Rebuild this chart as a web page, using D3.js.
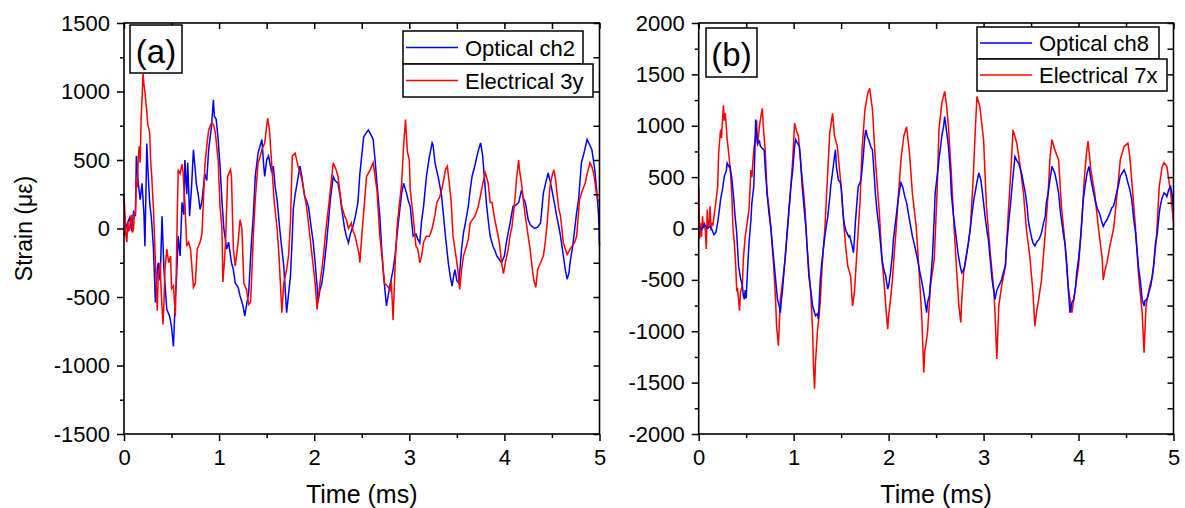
<!DOCTYPE html>
<html>
<head>
<meta charset="utf-8">
<script src="https://cdn.jsdelivr.net/npm/d3@7"></script>
<style>
  body { margin: 0; background: #fff; }
  svg { display: block; font-family: "Liberation Sans", Arial, sans-serif; }
  .tick text { fill: #000; }
</style>
</head>
<body>
<svg width="1185" height="508"></svg>
<script>
// values: [time (ms), strain (µε)]
const optA = [
  [0.00, -50], [0.03, 30], [0.06, 80], [0.08, -20], [0.10, 120], [0.12, 90], [0.13, 530], [0.15, 330],
  [0.17, 210], [0.19, 330], [0.21, 100], [0.22, -130], [0.24, 620], [0.25, 450], [0.27, 190], [0.29, 60],
  [0.31, -150], [0.33, -540], [0.35, -300], [0.36, -250], [0.38, -380], [0.40, 90], [0.42, -300], [0.45, -590],
  [0.48, -640], [0.50, -720], [0.52, -860], [0.54, -500], [0.55, -400], [0.57, -55], [0.59, -200], [0.61, 190],
  [0.63, 100], [0.64, 500], [0.66, 250], [0.67, 480], [0.69, 90], [0.71, 300], [0.73, 575], [0.75, 420],
  [0.76, 330], [0.78, 250], [0.80, 140], [0.82, 200], [0.85, 400], [0.87, 350], [0.89, 575], [0.92, 745],
  [0.94, 940], [0.95, 820], [0.97, 795], [0.99, 650], [1.01, 455], [1.03, 200], [1.05, 0], [1.08, -150],
  [1.10, -100], [1.13, -250], [1.15, -300], [1.17, -400], [1.20, -430], [1.22, -490], [1.25, -560], [1.27, -640],
  [1.29, -550], [1.31, -480], [1.34, -100], [1.36, 100], [1.38, 380], [1.41, 550], [1.43, 600], [1.45, 650],
  [1.47, 450], [1.48, 380], [1.50, 500], [1.52, 530], [1.55, 420], [1.57, 455], [1.59, 300], [1.61, 210],
  [1.64, -20], [1.66, -150], [1.68, -275], [1.70, -500], [1.71, -615], [1.73, -480], [1.75, -350], [1.77, -50],
  [1.78, 140], [1.80, 250], [1.82, 330], [1.85, 455], [1.87, 380], [1.90, 235], [1.92, 200], [1.94, 160],
  [1.97, 0], [1.99, -100], [2.01, -250], [2.03, -420], [2.04, -540], [2.06, -450], [2.08, -400], [2.10, -300],
  [2.13, -105], [2.15, 50], [2.17, 210], [2.20, 380], [2.22, 350], [2.25, 330], [2.27, 250], [2.29, 140],
  [2.32, 0], [2.34, -60], [2.36, -105], [2.38, -40], [2.41, 20], [2.43, 80], [2.46, 190], [2.48, 400],
  [2.50, 530], [2.52, 670], [2.55, 700], [2.57, 720], [2.60, 680], [2.62, 650], [2.64, 500], [2.66, 330],
  [2.69, 90], [2.71, -150], [2.73, -350], [2.76, -565], [2.78, -480], [2.80, -400], [2.83, -300], [2.85, -200],
  [2.87, -55], [2.90, 140], [2.92, 260], [2.94, 330], [2.97, 260], [2.99, 200], [3.01, 160], [3.04, -55],
  [3.07, -40], [3.09, -80], [3.11, -105], [3.13, 60], [3.15, 160], [3.18, 380], [3.21, 520], [3.24, 625],
  [3.25, 610], [3.27, 480], [3.31, 355], [3.34, 235], [3.36, 90], [3.38, -55], [3.41, -250], [3.43, -350],
  [3.45, -420], [3.47, -330], [3.48, -300], [3.50, -380], [3.52, -400], [3.55, -150], [3.57, -30], [3.59, 40],
  [3.62, 160], [3.64, 280], [3.66, 380], [3.69, 460], [3.71, 525], [3.73, 580], [3.75, 625], [3.77, 540],
  [3.78, 455], [3.81, 190], [3.83, 60], [3.85, -55], [3.88, -130], [3.90, -160], [3.92, -200], [3.95, -230],
  [3.97, -250], [4.00, -200], [4.02, -105], [4.04, -30], [4.06, 40], [4.09, 160], [4.12, 170], [4.15, 190],
  [4.18, 280], [4.20, 220], [4.22, 190], [4.25, 65], [4.27, 30], [4.29, 15], [4.32, 0], [4.35, 10],
  [4.38, 40], [4.41, 260], [4.44, 350], [4.46, 405], [4.48, 350], [4.50, 280], [4.53, 170], [4.55, 90],
  [4.57, 20], [4.59, -55], [4.62, -200], [4.64, -300], [4.66, -370], [4.68, -320], [4.69, -250], [4.72, -120],
  [4.74, 0], [4.76, 120], [4.78, 210], [4.81, 480], [4.84, 560], [4.87, 650], [4.89, 620], [4.92, 575],
  [4.95, 430], [4.97, 280], [4.99, 100], [5.00, -130]
];

const eleA = [
  [0.00, 250], [0.01, 100], [0.02, -50], [0.03, -100], [0.04, 50], [0.05, -20], [0.06, 0], [0.07, 80],
  [0.08, 100], [0.09, -30], [0.10, 0], [0.11, 120], [0.12, 100], [0.13, 350], [0.14, 300], [0.15, 520],
  [0.16, 600], [0.17, 480], [0.18, 800], [0.19, 950], [0.20, 1130], [0.21, 1050], [0.22, 1000], [0.24, 850],
  [0.25, 760], [0.27, 700], [0.28, 500], [0.29, 400], [0.31, 140], [0.32, -50], [0.33, -250], [0.35, -600],
  [0.36, -350], [0.38, -250], [0.39, -450], [0.41, -700], [0.42, -550], [0.43, -300], [0.45, -150], [0.47, -250],
  [0.49, -200], [0.50, -440], [0.52, -420], [0.54, -640], [0.55, -300], [0.56, 100], [0.57, 430], [0.59, 400],
  [0.61, 470], [0.62, 420], [0.64, 190], [0.66, -130], [0.68, -100], [0.70, -150], [0.73, -430], [0.75, -400],
  [0.77, -150], [0.80, -100], [0.82, -40], [0.85, 455], [0.87, 600], [0.89, 720], [0.92, 770], [0.94, 760],
  [0.96, 700], [0.99, 500], [1.01, 160], [1.03, 0], [1.04, -390], [1.06, -200], [1.07, -60], [1.09, 380],
  [1.12, 430], [1.13, 380], [1.15, -150], [1.17, -275], [1.20, -100], [1.22, 65], [1.24, 0], [1.26, -400],
  [1.29, -450], [1.31, -555], [1.33, -540], [1.34, -400], [1.36, -50], [1.38, 210], [1.41, 480], [1.43, 520],
  [1.45, 575], [1.48, 625], [1.51, 805], [1.53, 720], [1.55, 500], [1.58, 190], [1.61, 0], [1.63, -200],
  [1.66, -615], [1.68, -400], [1.71, -300], [1.73, -200], [1.75, 40], [1.77, 530], [1.80, 550], [1.83, 455],
  [1.87, 360], [1.90, 235], [1.92, 160], [1.94, 40], [1.97, -150], [2.01, -400], [2.03, -590], [2.06, -400],
  [2.08, -300], [2.10, -180], [2.13, 40], [2.15, 150], [2.17, 280], [2.20, 480], [2.23, 430], [2.25, 380],
  [2.29, 160], [2.32, 90], [2.34, 60], [2.36, 0], [2.39, 40], [2.41, -20], [2.43, -55], [2.45, -120],
  [2.47, -180], [2.48, -250], [2.50, -55], [2.53, 200], [2.55, 380], [2.59, 430], [2.62, 480], [2.64, 380],
  [2.66, 280], [2.69, -55], [2.72, -250], [2.74, -400], [2.77, -420], [2.80, -450], [2.81, -380], [2.83, -670],
  [2.85, -275], [2.87, 0], [2.89, 140], [2.92, 330], [2.94, 600], [2.96, 795], [2.98, 560], [3.00, 500],
  [3.01, 280], [3.04, 90], [3.07, -130], [3.09, -150], [3.11, -250], [3.13, -200], [3.15, -100], [3.18, -55],
  [3.21, -60], [3.24, 0], [3.27, 100], [3.29, 190], [3.32, 230], [3.34, 280], [3.36, 350], [3.38, 430],
  [3.40, 455], [3.42, 330], [3.44, 200], [3.46, -55], [3.49, -200], [3.51, -300], [3.53, -445], [3.55, -300],
  [3.57, -200], [3.60, -130], [3.62, -80], [3.64, 40], [3.67, 70], [3.69, 90], [3.72, 150], [3.74, 210],
  [3.77, 320], [3.80, 405], [3.83, 330], [3.85, 190], [3.87, 190], [3.90, 60], [3.93, -40], [3.95, -120],
  [3.97, -250], [3.99, -330], [4.01, -250], [4.04, -150], [4.06, -50], [4.08, 15], [4.11, 210], [4.13, 380],
  [4.15, 500], [4.16, 420], [4.18, 330], [4.20, 200], [4.22, 90], [4.25, -55], [4.27, -150], [4.29, -275],
  [4.31, -380], [4.33, -430], [4.35, -300], [4.38, -250], [4.41, -200], [4.43, -100], [4.45, 40], [4.48, 310],
  [4.50, 380], [4.52, 430], [4.54, 350], [4.55, 280], [4.57, 150], [4.59, 90], [4.62, -105], [4.64, -150],
  [4.66, -190], [4.69, -150], [4.71, -130], [4.74, -100], [4.76, -55], [4.79, 210], [4.82, 280], [4.85, 330],
  [4.87, 400], [4.90, 480], [4.92, 450], [4.94, 400], [4.96, 300], [4.97, 235], [5.00, 190]
];

const optB = [
  [0.00, 20], [0.03, -10], [0.06, 40], [0.09, 0], [0.12, 20], [0.14, -10], [0.16, -60], [0.18, -40],
  [0.20, 55], [0.22, 200], [0.23, 280], [0.25, 380], [0.27, 510], [0.29, 560], [0.30, 635], [0.32, 600],
  [0.33, 605], [0.35, 475], [0.37, 280], [0.38, 150], [0.40, -40], [0.42, -365], [0.44, -480], [0.46, -560],
  [0.47, -650], [0.48, -690], [0.49, -600], [0.50, -680], [0.52, -300], [0.53, -140], [0.55, 85], [0.56, 250],
  [0.58, 410], [0.59, 700], [0.60, 1060], [0.61, 900], [0.62, 830], [0.64, 850], [0.65, 800], [0.67, 780],
  [0.69, 760], [0.70, 600], [0.72, 345], [0.74, 150], [0.76, 0], [0.78, -200], [0.79, -300], [0.81, -500],
  [0.83, -690], [0.85, -760], [0.86, -820], [0.87, -700], [0.88, -625], [0.90, -400], [0.92, -170], [0.95, 185],
  [0.97, 400], [0.99, 570], [1.01, 800], [1.02, 865], [1.04, 830], [1.06, 800], [1.07, 700], [1.09, 410],
  [1.11, 200], [1.13, 0], [1.15, -300], [1.16, -465], [1.18, -600], [1.20, -755], [1.22, -820], [1.23, -850],
  [1.25, -830], [1.26, -880], [1.27, -700], [1.28, -500], [1.30, -300], [1.32, -140], [1.34, 0], [1.36, 120],
  [1.38, 300], [1.39, 410], [1.41, 550], [1.43, 700], [1.44, 765], [1.45, 600], [1.47, 475], [1.49, 450],
  [1.50, 410], [1.52, 150], [1.53, 60], [1.55, -20], [1.56, -40], [1.58, -80], [1.59, -70], [1.61, -150],
  [1.63, -235], [1.64, -100], [1.65, 60], [1.67, 300], [1.68, 410], [1.70, 450], [1.71, 475], [1.73, 670],
  [1.75, 900], [1.76, 960], [1.78, 880], [1.79, 865], [1.81, 800], [1.83, 765], [1.85, 500], [1.86, 345],
  [1.88, 150], [1.90, 0], [1.92, -200], [1.93, -300], [1.95, -400], [1.97, -465], [1.99, -590], [2.00, -560],
  [2.02, -430], [2.04, -250], [2.05, -110], [2.08, 120], [2.10, 280], [2.12, 400], [2.13, 445], [2.15, 400],
  [2.17, 310], [2.19, 250], [2.22, 85], [2.25, -75], [2.27, -150], [2.29, -235], [2.31, -330], [2.33, -430],
  [2.35, -520], [2.37, -625], [2.40, -820], [2.41, -720], [2.43, -650], [2.46, -300], [2.48, 100], [2.49, 345],
  [2.51, 500], [2.53, 670], [2.55, 820], [2.56, 900], [2.58, 1000], [2.59, 1090], [2.61, 950], [2.63, 800],
  [2.65, 550], [2.66, 345], [2.68, 150], [2.70, 0], [2.72, -150], [2.73, -235], [2.75, -350], [2.77, -430],
  [2.79, -400], [2.80, -365], [2.82, -250], [2.84, -140], [2.86, 0], [2.88, 160], [2.90, 300], [2.91, 345],
  [2.93, 450], [2.95, 540], [2.97, 480], [2.98, 410], [3.00, 250], [3.02, 85], [3.04, -50], [3.05, -100],
  [3.07, -300], [3.09, -500], [3.11, -620], [3.12, -690], [3.14, -600], [3.16, -560], [3.18, -520], [3.19, -500],
  [3.21, -420], [3.23, -365], [3.24, -200], [3.26, 20], [3.28, 200], [3.30, 410], [3.32, 600], [3.33, 700],
  [3.35, 660], [3.37, 635], [3.38, 600], [3.40, 540], [3.42, 440], [3.44, 345], [3.46, 200], [3.47, 85],
  [3.49, -20], [3.51, -105], [3.52, -140], [3.54, -170], [3.56, -130], [3.58, -110], [3.60, -70], [3.61, -40],
  [3.63, 50], [3.65, 120], [3.66, 250], [3.68, 345], [3.70, 480], [3.72, 605], [3.73, 580], [3.75, 540],
  [3.77, 450], [3.79, 345], [3.81, 150], [3.82, 85], [3.84, -50], [3.86, -170], [3.88, -400], [3.89, -560],
  [3.91, -820], [3.93, -720], [3.95, -690], [3.97, -560], [3.98, -430], [4.00, -300], [4.02, -105], [4.04, 150],
  [4.05, 280], [4.07, 420], [4.09, 540], [4.11, 605], [4.13, 480], [4.15, 380], [4.17, 300], [4.18, 250],
  [4.20, 190], [4.22, 150], [4.24, 80], [4.26, 20], [4.28, 60], [4.30, 85], [4.32, 130], [4.33, 150],
  [4.35, 200], [4.37, 220], [4.40, 345], [4.42, 420], [4.44, 510], [4.46, 540], [4.48, 570], [4.50, 520],
  [4.52, 445], [4.54, 380], [4.56, 280], [4.58, 100], [4.60, -40], [4.62, -250], [4.63, -365], [4.65, -500],
  [4.67, -690], [4.69, -755], [4.70, -700], [4.72, -690], [4.74, -620], [4.76, -560], [4.77, -500], [4.79, -365],
  [4.81, -150], [4.83, -40], [4.85, 150], [4.86, 215], [4.88, 300], [4.90, 345], [4.92, 330], [4.93, 310],
  [4.95, 380], [4.97, 410], [4.99, 300], [5.00, 185]
];

const eleB = [
  [0.00, 410], [0.01, -100], [0.02, 50], [0.03, -80], [0.04, 120], [0.05, 0], [0.06, 60], [0.07, -20],
  [0.08, -200], [0.09, 185], [0.10, 0], [0.11, 40], [0.12, 216], [0.13, -20], [0.14, 55], [0.15, 30],
  [0.17, 185], [0.18, 250], [0.20, 410], [0.21, 735], [0.23, 960], [0.24, 880], [0.26, 1200], [0.27, 1050],
  [0.28, 1120], [0.29, 1000], [0.30, 865], [0.32, 700], [0.34, 475], [0.35, 300], [0.36, 20], [0.38, -200],
  [0.39, -365], [0.40, -600], [0.41, -590], [0.43, -800], [0.44, -620], [0.46, -560], [0.47, -300], [0.49, -75],
  [0.51, 50], [0.53, 185], [0.55, 570], [0.56, 500], [0.58, 765], [0.60, 900], [0.61, 1050], [0.62, 800],
  [0.64, 1000], [0.65, 1060], [0.67, 1170], [0.68, 1000], [0.70, 765], [0.72, 345], [0.74, 200], [0.76, 20],
  [0.78, -250], [0.79, -365], [0.81, -700], [0.82, -950], [0.84, -1140], [0.85, -900], [0.86, -690], [0.89, -465],
  [0.91, -300], [0.93, -75], [0.96, 280], [0.99, 670], [1.01, 1025], [1.03, 950], [1.05, 900], [1.08, 570],
  [1.10, 400], [1.12, 185], [1.14, -170], [1.16, -400], [1.18, -625], [1.20, -1000], [1.21, -1370], [1.22, -1560],
  [1.23, -1300], [1.25, -1010], [1.28, -720], [1.30, -365], [1.33, 20], [1.36, 570], [1.38, 930], [1.41, 1120],
  [1.43, 900], [1.46, 800], [1.48, 600], [1.50, 410], [1.53, 20], [1.55, -200], [1.57, -365], [1.60, -465],
  [1.62, -755], [1.64, -620], [1.67, -170], [1.70, 280], [1.72, 765], [1.75, 1155], [1.78, 1315], [1.80, 1365],
  [1.81, 1300], [1.83, 1155], [1.86, 670], [1.90, 185], [1.93, -300], [1.95, -500], [1.97, -755], [1.99, -980],
  [2.00, -850], [2.02, -690], [2.04, -500], [2.06, -235], [2.08, 0], [2.10, 280], [2.13, 670], [2.16, 900],
  [2.19, 990], [2.20, 900], [2.22, 735], [2.25, 345], [2.29, 20], [2.32, -400], [2.35, -880], [2.37, -1400],
  [2.38, -1200], [2.41, -1010], [2.44, -560], [2.48, -300], [2.51, 345], [2.53, 960], [2.56, 1220], [2.59, 1335],
  [2.61, 1200], [2.63, 995], [2.66, 540], [2.69, 0], [2.72, -460], [2.74, -755], [2.76, -915], [2.77, -700],
  [2.79, -430], [2.82, -270], [2.86, 0], [2.89, 475], [2.91, 900], [2.93, 1285], [2.96, 1190], [3.00, 865],
  [3.03, 215], [3.07, -235], [3.11, -625], [3.12, -820], [3.14, -1270], [3.16, -755], [3.19, -560], [3.23, -365],
  [3.26, 150], [3.29, 605], [3.31, 960], [3.35, 830], [3.39, 570], [3.42, 345], [3.45, 0], [3.49, -300],
  [3.52, -625], [3.54, -950], [3.56, -800], [3.58, -690], [3.61, -500], [3.65, -40], [3.68, 345], [3.70, 700],
  [3.72, 865], [3.75, 765], [3.79, 670], [3.82, 215], [3.86, -170], [3.89, -560], [3.93, -820], [3.96, -625],
  [4.00, -365], [4.03, 0], [4.06, 475], [4.08, 700], [4.10, 850], [4.13, 570], [4.17, 345], [4.21, 0],
  [4.25, -300], [4.26, -500], [4.28, -400], [4.30, -330], [4.33, -170], [4.37, 0], [4.40, 280], [4.44, 670],
  [4.48, 800], [4.52, 830], [4.54, 700], [4.56, 475], [4.60, 0], [4.63, -430], [4.67, -820], [4.69, -1210],
  [4.71, -755], [4.75, -560], [4.78, -460], [4.82, -100], [4.85, 410], [4.88, 600], [4.90, 640], [4.93, 605],
  [4.97, 345], [5.00, 55]
];

const timeTicks = [0, 1, 2, 3, 4, 5];
const strainTicksA = [-1500, -1000, -500, 0, 500, 1000, 1500];
const strainTicksB = [-2000, -1500, -1000, -500, 0, 500, 1000, 1500, 2000];
const legendA = ['Optical ch2', 'Electrical 3y'];
const legendB = ['Optical ch8', 'Electrical 7x'];

const BLUE = '#0000ff';
const RED = '#ff0000';
const FONT_TICK = 22;

const svg = d3.select('svg');

// plain hyphen for negatives, like the original
const fmt = d => String(d);

const panels = [
  { left: 124, right: 599.5, top: 23, bottom: 434, yTicks: strainTicksA, opt: optA, ele: eleA,
    names: legendA, label: '(a)', redOnTop: true,
    tag: { x: 130, y: 25, w: 52, h: 48, base: 63 },
    leg: { x: 403, y: 31, w1: 180, w2: 190, h: 33, line: 52, textX: 465 } },
  { left: 698.7, right: 1173.5, top: 23, bottom: 434, yTicks: strainTicksB, opt: optB, ele: eleB,
    names: legendB, label: '(b)', redOnTop: false,
    tag: { x: 706, y: 28, w: 51, h: 49, base: 66 },
    leg: { x: 977, y: 27, w1: 182, w2: 190, h: 32, line: 52, textX: 1039 } }
];

panels.forEach(p => {
  const ext = d3.extent(p.yTicks);
  const x = d3.scaleLinear().domain([0, 5]).range([p.left, p.right]);
  const y = d3.scaleLinear().domain(ext).range([p.bottom, p.top]);
  const minorX = d3.range(0, 5.01, 0.5).filter(v => v % 1 !== 0);
  const allY = d3.range(ext[0], ext[1] + 1, 250);
  const minorY = allY.filter(v => v % 500 !== 0);

  const line = d3.line().x(d => x(d[0])).y(d => y(d[1]));
  const g = svg.append('g');

  const series = [{ data: p.opt, color: BLUE }, { data: p.ele, color: RED }];
  if (!p.redOnTop) series.reverse();
  series.forEach(s => {
    g.append('path')
      .datum(s.data)
      .attr('d', line)
      .attr('fill', 'none')
      .attr('stroke', s.color)
      .attr('stroke-width', 1.5)
      .attr('stroke-linejoin', 'miter');
  });

  // frame
  g.append('rect')
    .attr('x', p.left).attr('y', p.top)
    .attr('width', p.right - p.left).attr('height', p.bottom - p.top)
    .attr('fill', 'none').attr('stroke', '#000').attr('stroke-width', 1.6);

  const styleAxis = sel => {
    sel.select('.domain').remove();
    sel.selectAll('line').attr('stroke', '#000').attr('stroke-width', 1.5);
    sel.selectAll('text').attr('font-size', FONT_TICK).attr('fill', '#000');
  };

  g.append('g').attr('transform', `translate(${p.left},0)`)
    .call(d3.axisLeft(y).tickValues(p.yTicks).tickSize(7).tickPadding(7).tickFormat(fmt))
    .call(styleAxis);
  g.append('g').attr('transform', `translate(${p.left},0)`)
    .call(d3.axisLeft(y).tickValues(minorY).tickSize(4).tickFormat(''))
    .call(styleAxis);
  g.append('g').attr('transform', `translate(0,${p.bottom})`)
    .call(d3.axisBottom(x).tickValues(timeTicks).tickSize(7).tickPadding(8).tickFormat(fmt))
    .call(styleAxis);
  g.append('g').attr('transform', `translate(0,${p.bottom})`)
    .call(d3.axisBottom(x).tickValues(minorX).tickSize(4).tickFormat(''))
    .call(styleAxis);
  g.append('g').attr('transform', `translate(0,${p.top})`)
    .call(d3.axisTop(x).tickValues(timeTicks.concat(minorX)).tickSize(-6).tickFormat(''))
    .call(styleAxis);
  g.append('g').attr('transform', `translate(${p.right},0)`)
    .call(d3.axisRight(y).tickValues(allY).tickSize(-6).tickFormat(''))
    .call(styleAxis);

  // axis titles
  g.append('text')
    .attr('x', (p.left + p.right) / 2).attr('y', 503)
    .attr('text-anchor', 'middle').attr('font-size', 25).attr('fill', '#000')
    .text('Time (ms)');
  if (p.label === '(a)') {
    g.append('text')
      .attr('transform', `translate(32,${(p.top + p.bottom) / 2}) rotate(-90)`)
      .attr('text-anchor', 'middle').attr('font-size', 23).attr('fill', '#000')
      .text('Strain (\u03bc\u03b5)');
  }

  // panel tag
  g.append('rect')
    .attr('x', p.tag.x).attr('y', p.tag.y).attr('width', p.tag.w).attr('height', p.tag.h)
    .attr('fill', '#fff').attr('stroke', '#000').attr('stroke-width', 1.5);
  g.append('text')
    .attr('x', p.tag.x + p.tag.w / 2).attr('y', p.tag.base)
    .attr('text-anchor', 'middle').attr('font-size', 33).attr('fill', '#000')
    .text(p.label);

  // legend
  const L = p.leg;
  [[L.w1, BLUE], [L.w2, RED]].forEach((row, i) => {
    const ry = L.y + i * L.h;
    g.append('rect')
      .attr('x', L.x).attr('y', ry).attr('width', row[0]).attr('height', L.h)
      .attr('fill', '#fff').attr('stroke', '#000').attr('stroke-width', 1.5);
    g.append('line')
      .attr('x1', L.x + 3).attr('x2', L.x + 3 + L.line)
      .attr('y1', ry + L.h / 2).attr('y2', ry + L.h / 2)
      .attr('stroke', row[1]).attr('stroke-width', 1.5);
    g.append('text')
      .attr('x', L.textX).attr('y', ry + L.h / 2 + 8)
      .attr('font-size', 22).attr('fill', '#000')
      .text(p.names[i]);
  });
});
</script>
</body>
</html>
